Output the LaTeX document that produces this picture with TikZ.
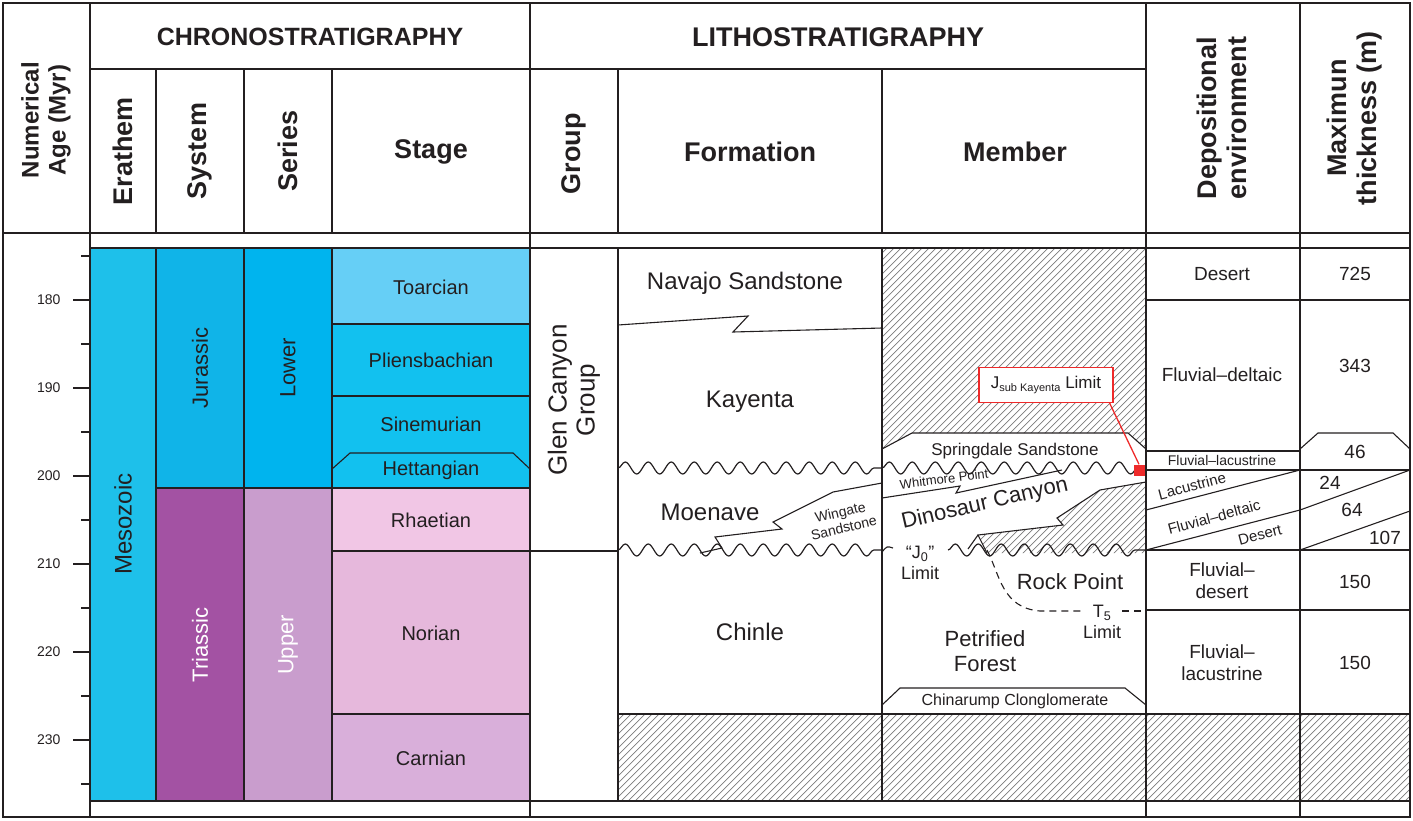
\documentclass[tikz,border=0pt]{standalone}
\usepackage{fontspec}
\setmainfont{Liberation Sans}
\usetikzlibrary{decorations.pathmorphing}
\definecolor{cMeso}{HTML}{1EC0EA}
\definecolor{cJura}{HTML}{10B4E8}
\definecolor{cLower}{HTML}{00B4EE}
\definecolor{cToar}{HTML}{66CFF6}
\definecolor{cEarlyJ}{HTML}{12C1EF}
\definecolor{cTrias}{HTML}{A352A3}
\definecolor{cUpper}{HTML}{C99DCD}
\definecolor{cRhae}{HTML}{F1C6E5}
\definecolor{cNori}{HTML}{E6B8DC}
\definecolor{cCarn}{HTML}{D9AFDA}
\definecolor{cInk}{HTML}{231F20}
\definecolor{cHatch}{HTML}{7A7A7A}
\definecolor{cLimit}{HTML}{EE2A2A}

% diagonal hatching inside a closed path
\newcommand{\hatcharea}[1]{%
  \begin{scope}
    \clip #1;
    \foreach \k in {0,7,...,1420}{\draw[hatchline] (\k,820) -- ++(600,-600);}
  \end{scope}}

\begin{document}
\begin{tikzpicture}[x=1pt, y=-1pt,
  frame/.style={draw=cInk, line width=1.6pt},
  cell/.style={draw=cInk, line width=1.1pt},
  hatchline/.style={draw=cHatch, line width=0.7pt},
  wavy/.style={draw=cInk, line width=1.2pt, decorate,
               decoration={snake, amplitude=6pt, segment length=23pt}},
  hdr/.style={font=\fontsize{27}{30}\selectfont\bfseries, text=cInk, align=center},
  lbl/.style={font=\fontsize{22}{25}\selectfont, text=cInk, align=center},
  stg/.style={font=\fontsize{20}{23}\selectfont, text=cInk},
  env/.style={font=\fontsize{19}{22}\selectfont, text=cInk, align=center},
  tiny/.style={font=\fontsize{14}{16}\selectfont, text=cInk, align=center},
  axlbl/.style={font=\fontsize{14}{16}\selectfont, text=cInk, anchor=east}]
  \useasboundingbox (0,0) rectangle (1413,820);

  % chronostratigraphic colours
  \fill[cMeso]  (90,248)  rectangle (156,801);
  \fill[cJura]  (156,248) rectangle (244,488);
  \fill[cTrias] (156,488) rectangle (244,801);
  \fill[cLower] (244,248) rectangle (332,488);
  \fill[cUpper] (244,488) rectangle (332,801);
  \fill[cToar]  (332,248) rectangle (530,324);
  \fill[cEarlyJ](332,324) rectangle (530,488);
  \fill[cRhae]  (332,488) rectangle (530,551);
  \fill[cNori]  (332,551) rectangle (530,714);
  \fill[cCarn]  (332,714) rectangle (530,801);

  % hatched gaps
  \hatcharea{(882,248) -- (1146,248) -- (1146,449) -- (1128,433) -- (912,433) -- (882,449) -- cycle}
  \hatcharea{(1146,482) -- (1100,490) -- (1057,518) -- (1063,525) -- (978,535) -- (987,553) -- (1146,553) -- cycle}
  \hatcharea{(618,714) rectangle (1410,801)}

  % table frame
  \draw[frame] (3,3) rectangle (1410,817);
  \draw[frame] (90,69) -- (1146,69);
  \draw[frame] (3,233) -- (1410,233);
  \draw[cell] (90,248) -- (1410,248);
  \draw[cell] (90,801) -- (1410,801);
  \foreach \x in {90,530,1146,1300}{\draw[frame] (\x,3) -- (\x,817);}
  \foreach \x in {156,244,332,618,882}{
    \draw[cell] (\x,69) -- (\x,233);
    \draw[cell] (\x,248) -- (\x,801);}

  % age axis
  \foreach \a in {180,190,...,230}{
    \pgfmathsetmacro{\yy}{300+(\a-180)*8.8}
    \draw[cell] (73,\yy) -- (90,\yy);
    \node[axlbl] (age\a) at (64,\yy) {\a};}
  \foreach \a in {175,185,...,235}{
    \pgfmathsetmacro{\yy}{300+(\a-180)*8.8}
    \draw[cell] (81,\yy) -- (90,\yy);}

  % headers
  \node[hdr, rotate=90, font=\fontsize{24}{27}\selectfont\bfseries] (hAge) at (46,120) {Numerical\\Age (Myr)};
  \node[hdr, font=\fontsize{25}{28}\selectfont\bfseries] (hChrono) at (310,37) {CHRONOSTRATIGRAPHY};
  \node[hdr] (hLitho) at (838,37) {LITHOSTRATIGRAPHY};
  \node[hdr, rotate=90] (hErathem) at (123,151) {Erathem};
  \node[hdr, rotate=90] (hSystem) at (200,151) {System};
  \node[hdr, rotate=90] (hSeries) at (288,151) {Series};
  \node[hdr] (hStage) at (431,152) {Stage};
  \node[hdr, rotate=90] (hGroup) at (574,154) {Group};
  \node[hdr] (hFormation) at (750,152) {Formation};
  \node[hdr] (hMember) at (1015,152) {Member};
  \node[hdr, rotate=90] (hEnv) at (1222,118) {Depositional\\environment};
  \node[hdr, rotate=90] (hThick) at (1355,118) {Maximun\\thickness (m)};

  % chronostratigraphy
  \node[lbl, rotate=90, font=\fontsize{24}{26}\selectfont] (meso) at (123,524) {Mesozoic};
  \node[lbl, rotate=90] (jura) at (200,368) {Jurassic};
  \node[lbl, rotate=90, text=white] (trias) at (200,645) {Triassic};
  \node[lbl, rotate=90] (lower) at (288,368) {Lower};
  \node[lbl, rotate=90, text=white] (upper) at (288,645) {Upper};
  \draw[cell] (332,324) -- (530,324);
  \draw[cell] (332,396) -- (530,396);
  \draw[cell] (332,469) -- (350,453) -- (513,453) -- (530,469);
  \draw[cell] (156,488) -- (530,488);
  \draw[cell] (332,551) -- (618,551);
  \draw[cell] (332,714) -- (530,714);
  \node[stg] (toar) at (431,287) {Toarcian};
  \node[stg] (plie) at (431,360) {Pliensbachian};
  \node[stg] (sine) at (431,424) {Sinemurian};
  \node[stg] (hett) at (431,470) {Hettangian};
  \node[stg] (rhae) at (431,520) {Rhaetian};
  \node[stg] (nori) at (431,633) {Norian};
  \node[stg] (carn) at (431,758) {Carnian};

  % formations
  \node[lbl, rotate=90, font=\fontsize{26}{28}\selectfont] (glen) at (574,400) {Glen Canyon\\Group};
  \draw[cell] (618,325) -- (748,316) -- (733,332) -- (882,328);
  \draw[wavy] (618,468) -- (882,468);
  \draw[wavy] (618,550) -- (882,550);
  \draw[cell] (882,483) -- (833,492) -- (773,522) -- (782,529) -- (715,537) -- (722,548) -- (700,553);
  \draw[cell] (618,714) -- (882,714);
  \node[lbl, font=\fontsize{24}{26}\selectfont] (navajo) at (745,283) {Navajo Sandstone};
  \node[lbl, font=\fontsize{24}{26}\selectfont] (kayenta) at (750,402) {Kayenta};
  \node[lbl, font=\fontsize{24}{26}\selectfont] (moenave) at (710,512) {Moenave};
  \node[tiny, rotate=13] (wingate) at (842,520) {Wingate\\Sandstone};
  \node[lbl, font=\fontsize{24}{26}\selectfont] (chinle) at (750,632) {Chinle};

  % members
  \draw[cell] (882,449) -- (912,433) -- (1128,433) -- (1146,449);
  \draw[wavy] (882,468) -- (1146,468);
  \draw[cell] (882,498) -- (960,486) -- (956,493) -- (1062,470);
  \draw[cell] (1146,482) -- (1100,490) -- (1057,518) -- (1063,525) -- (978,535) -- (987,553);
  \draw[cell] (978,535) -- (968,549);
  \draw[wavy] (948,550) -- (1146,550);
  \draw[cell] (882,552) .. controls (887,546) .. (893,548);
  \draw[cell, dashed, dash pattern=on 7pt off 5pt] (987,550) .. controls (1000,575) and (1002,608) .. (1040,611) -- (1082,611);
  \draw[cell, dashed, dash pattern=on 7pt off 5pt] (1122,611) -- (1146,611);
  \draw[cell] (882,705) -- (900,688) -- (1125,688) -- (1146,705);
  \draw[cell] (882,714) -- (1146,714);
  \node[lbl, font=\fontsize{17}{20}\selectfont] (springdale) at (1015,451) {Springdale Sandstone};
  \node[tiny, font=\fontsize{13}{15}\selectfont, rotate=7] (whitmore) at (944,479) {Whitmore Point};
  \node[lbl, rotate=13] (dinosaur) at (985,504) {Dinosaur Canyon};
  \node[lbl, font=\fontsize{18}{21}\selectfont] (jzero) at (920,563) {``J\textsubscript{0}''\\Limit};
  \node[lbl] (rockpt) at (1070,582) {Rock Point};
  \node[lbl, font=\fontsize{18}{21}\selectfont] (tfive) at (1102,622) {T\textsubscript{5}\\Limit};
  \node[lbl] (petrified) at (985,651) {Petrified\\Forest};
  \node[lbl, font=\fontsize{16}{19}\selectfont] (chinarump) at (1015,701) {Chinarump Clonglomerate};

  % J sub Kayenta limit callout
  \node[draw=cLimit, line width=1.2pt, fill=white, minimum width=134, minimum height=35,
        font=\fontsize{17}{20}\selectfont, text=cInk] (jlim) at (1046,385)
        {J{\fontsize{11}{12}\selectfont\raisebox{-0.5ex}{sub Kayenta}} Limit};
  \node[fill=cLimit, minimum size=11, inner sep=0pt] (jsq) at (1139,470) {};
  \draw[cLimit, line width=1.3pt] ([xshift=-4]jlim.south east) -- (jsq.north);

  % depositional environment and thickness
  \draw[cell] (1146,300) -- (1410,300);
  \draw[cell] (1146,451) -- (1300,451);
  \draw[cell] (1300,449) -- (1318,433) -- (1393,433) -- (1410,449);
  \draw[cell] (1146,470) -- (1410,470);
  \draw[cell] (1146,510) -- (1300,470);
  \draw[cell] (1146,550) -- (1300,510);
  \draw[cell] (1300,510) -- (1410,470);
  \draw[cell] (1300,550) -- (1410,511);
  \draw[cell] (1146,550) -- (1410,550);
  \draw[cell] (1146,610) -- (1410,610);
  \draw[cell] (1146,714) -- (1410,714);
  \node[env] (eDesert) at (1222,274) {Desert};
  \node[env] (eFluvDel) at (1222,375) {Fluvial--deltaic};
  \node[tiny] (eFluvLac) at (1222,460) {Fluvial--lacustrine};
  \node[env, font=\fontsize{15}{17}\selectfont, rotate=15] (eLac) at (1192,486) {Lacustrine};
  \node[env, font=\fontsize{15}{17}\selectfont, rotate=15] (eFluvDel2) at (1214,517) {Fluvial--deltaic};
  \node[env, font=\fontsize{15}{17}\selectfont, rotate=15] (eDesert2) at (1260,535) {Desert};
  \node[env] (eFluvDes) at (1222,581) {Fluvial--\\desert};
  \node[env] (eFluvLac2) at (1222,663) {Fluvial--\\lacustrine};
  \node[env] (t725) at (1355,274) {725};
  \node[env] (t343) at (1355,366) {343};
  \node[env] (t46) at (1355,452) {46};
  \node[env] (t24) at (1330,483) {24};
  \node[env] (t64) at (1352,510) {64};
  \node[env] (t107) at (1385,538) {107};
  \node[env] (t150a) at (1355,582) {150};
  \node[env] (t150b) at (1355,663) {150};
\end{tikzpicture}
\end{document}
